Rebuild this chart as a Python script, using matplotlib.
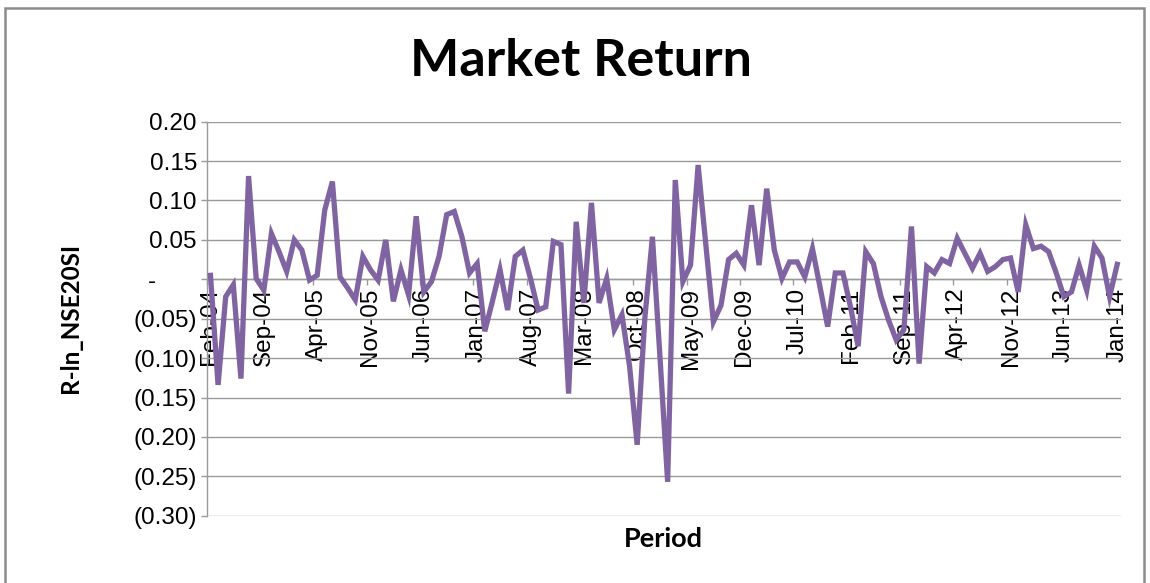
import numpy as np
import matplotlib
matplotlib.use("Agg")
import matplotlib.pyplot as plt
from matplotlib.patches import Rectangle
from matplotlib.ticker import FuncFormatter

# monthly log returns of the NSE 20 share index, Feb-04 .. Jan-14
returns = [
    0.005, -0.134, -0.022, -0.007, -0.126, 0.131, 0.001, -0.014, 0.058, 0.035,
    0.010, 0.050, 0.037, -0.001, 0.005, 0.088, 0.124, 0.003, -0.011, -0.026,
    0.029, 0.012, -0.001, 0.050, -0.028, 0.012, -0.020, 0.080, -0.016, -0.003,
    0.029, 0.082, 0.086, 0.054, 0.008, 0.020, -0.066, -0.028, 0.012, -0.039,
    0.029, 0.037, 0.001, -0.039, -0.035, 0.048, 0.044, -0.145, 0.073, -0.030,
    0.097, -0.030, 0.001, -0.064, -0.045, -0.110, -0.210, -0.050, 0.054, -0.100,
    -0.257, 0.126, -0.003, 0.018, 0.145, 0.045, -0.054, -0.033, 0.025, 0.033,
    0.018, 0.094, 0.018, 0.115, 0.037, 0.001, 0.022, 0.022, 0.003, 0.039,
    -0.010, -0.060, 0.008, 0.008, -0.035, -0.085, 0.035, 0.020, -0.022, -0.052,
    -0.077, -0.064, 0.067, -0.107, 0.016, 0.008, 0.025, 0.020, 0.052, 0.033,
    0.014, 0.033, 0.010, 0.016, 0.025, 0.027, -0.016, 0.069, 0.039, 0.042,
    0.035, 0.008, -0.022, -0.016, 0.018, -0.014, 0.042, 0.027, -0.022, 0.019,
]

# every 7th month is labelled
tick_labels = ["Feb-04", "Sep-04", "Apr-05", "Nov-05", "Jun-06", "Jan-07",
               "Aug-07", "Mar-08", "Oct-08", "May-09", "Dec-09", "Jul-10",
               "Feb-11", "Sep-11", "Apr-12", "Nov-12", "Jun-13", "Jan-14"]
label_step = 7

y_ticks = [0.20, 0.15, 0.10, 0.05, 0.0, -0.05, -0.10, -0.15, -0.20, -0.25, -0.30]

line_color = "#8064A2"
grid_color = "#9A9A9A"
tick_font = "Liberation Sans"
head_font = "Lato"


def accounting(v, pos):
    """Excel accounting style: dash for zero, brackets for negatives"""
    if abs(v) < 1e-9:
        return "-      "
    if v < 0:
        return "({:.2f})".format(-v)
    return "{:.2f}".format(v)


fig = plt.figure(figsize=(11.5, 5.83), dpi=100)
ax = fig.add_axes([0.1797, 0.1154, 0.7951, 0.6759])

months = np.arange(len(returns))
ax.plot(months, returns, color=line_color, linewidth=3.8,
        solid_joinstyle="miter", zorder=3)

ax.set_xlim(-0.5, len(returns) - 0.5)
ax.set_ylim(-0.30, 0.20)

# y axis: gridlines and accounting labels
ax.set_yticks(y_ticks)
ax.yaxis.set_major_formatter(FuncFormatter(accounting))
ax.grid(axis="y", color=grid_color, linewidth=1.0)
ax.tick_params(axis="y", direction="out", length=4, width=1, color=grid_color,
               pad=3, labelsize=17.5)

# x axis sits on zero, labels hang below it
ax.spines["bottom"].set_position(("data", 0))
ax.set_xticks(months[::label_step])
ax.set_xticklabels(tick_labels, rotation=90)
ax.set_xticks(months[::label_step] - 0.5, minor=True)
ax.tick_params(axis="x", which="major", length=0, pad=6, labelsize=17.5)
ax.tick_params(axis="x", which="minor", direction="out", length=4, width=1,
               color=grid_color)

for side in ["top", "right"]:
    ax.spines[side].set_visible(False)
for side in ["left", "bottom"]:
    ax.spines[side].set_color(grid_color)
    ax.spines[side].set_linewidth(1.0)

for lab in ax.get_xticklabels() + ax.get_yticklabels():
    lab.set_fontfamily(tick_font)

fig.text(0.505, 0.894, "Market Return", ha="center", va="center",
         fontsize=37.5, fontweight="bold", family=head_font)
fig.text(0.061, 0.455, "R-ln_NSE20SI", ha="center", va="center", rotation=90,
         fontsize=17.5, fontweight="bold", family=head_font)
fig.text(0.577, 0.076, "Period", ha="center", va="center",
         fontsize=19.5, fontweight="bold", family=head_font)

# chart area border
fig.add_artist(Rectangle((5 / 1150, -0.05), 1139 / 1150, 1 - 8 / 583 + 0.05,
                         transform=fig.transFigure, fill=False,
                         edgecolor="#8C8C8C", linewidth=1.8))

fig.savefig("out.png", dpi=100, facecolor="white")
